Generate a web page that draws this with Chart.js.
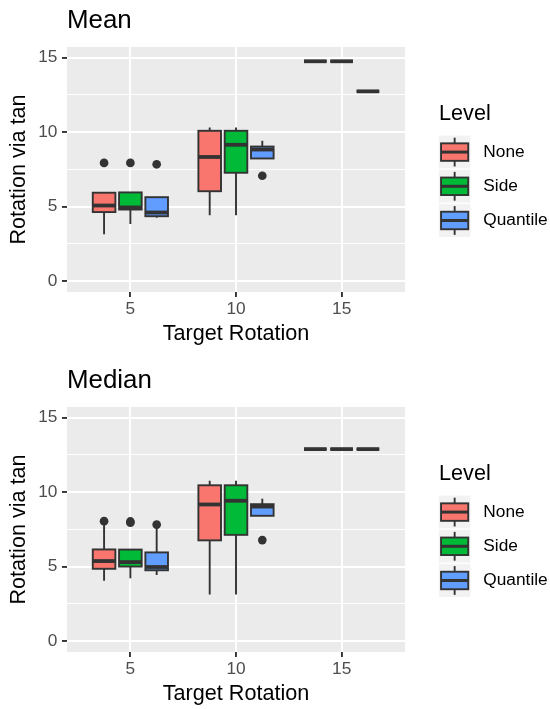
<!DOCTYPE html>
<html lang="en">
<head>
  <meta charset="UTF-8" />
  <title>Rotation via tan</title>
  <script src="https://cdn.jsdelivr.net/npm/chart.js"></script>
  <style>
    body { margin: 0; background: #fff; }
    .panel { position: absolute; left: 0; width: 550px; height: 349px; }
  </style>
</head>
<body>
  <div class="panel" style="top:0"><canvas id="meanChart" width="550" height="349"></canvas></div>
  <div class="panel" style="top:360px"><canvas id="medianChart" width="550" height="349"></canvas></div>

  <script>
    // data
    const targets = [5, 10, 15];
    const levels = ['None', 'Side', 'Quantile'];
    const xTicks = [5, 10, 15];
    const yTicks = [0, 5, 10, 15];
    const yMinorTicks = [2.5, 7.5, 12.5];

    // each row: [lower whisker, Q1, median, Q3, upper whisker], one row per target rotation
    const meanNone     = [[3.14, 4.63, 5.07, 5.93, 5.93], [4.41, 6.03, 8.33, 10.09, 10.31], [14.76, 14.76, 14.76, 14.76, 14.76]];
    const meanSide     = [[3.83, 4.80, 4.94, 5.95, 5.95], [4.41, 7.27, 9.15, 10.09, 10.31], [14.76, 14.76, 14.76, 14.76, 14.76]];
    const meanQuantile = [[4.25, 4.35, 4.60, 5.63, 5.63], [8.23, 8.23, 8.83, 9.03, 9.42], [12.74, 12.74, 12.74, 12.74, 12.74]];
    const meanNoneOut     = [[7.93], [], []];
    const meanSideOut     = [[7.93], [], []];
    const meanQuantileOut = [[7.84], [7.07], []];

    const medianNone     = [[4.05, 4.85, 5.37, 6.15, 7.85], [3.13, 6.76, 9.17, 10.46, 10.77], [12.89, 12.89, 12.89, 12.89, 12.89]];
    const medianSide     = [[4.21, 5.00, 5.30, 6.14, 6.14], [3.13, 7.13, 9.42, 10.46, 10.77], [12.89, 12.89, 12.89, 12.89, 12.89]];
    const medianQuantile = [[4.43, 4.75, 4.97, 5.95, 7.60], [8.41, 8.41, 9.03, 9.19, 9.56], [12.89, 12.89, 12.89, 12.89, 12.89]];
    const medianNoneOut     = [[8.05], [], []];
    const medianSideOut     = [[7.95, 8.03], [], []];
    const medianQuantileOut = [[7.82], [6.78], []];

    // look
    const levelColors = ['#F8766D', '#00BA38', '#619CFF'];
    const ink = '#333333';
    const fam = '"Liberation Sans", Arial, sans-serif';
    const dodge = 1.245;     // x units between boxes of one group
    const boxWidth = 1.07;   // x units

    Chart.defaults.font.family = fam;

    // ggplot-like boxes, drawn through the chart scales
    const boxplotPlugin = {
      id: 'boxplots',
      beforeDraw(chart) {
        const { ctx, chartArea: a } = chart;
        ctx.save();
        ctx.fillStyle = '#EBEBEB';
        ctx.fillRect(a.left, a.top, a.right - a.left, a.bottom - a.top);
        ctx.restore();
      },
      beforeDatasetsDraw(chart, args, opts) {
        const { ctx, scales: { x, y } } = chart;
        ctx.save();
        opts.series.forEach((rows, li) => {
          rows.forEach((r, ti) => {
            const cx = targets[ti] + (li - 1) * dodge;
            const x0 = x.getPixelForValue(cx - boxWidth / 2);
            const x1 = x.getPixelForValue(cx + boxWidth / 2);
            const xm = x.getPixelForValue(cx);
            const [lo, q1, med, q3, hi] = r.map(v => y.getPixelForValue(v));
            ctx.strokeStyle = ink;
            ctx.lineWidth = 1.9;
            ctx.beginPath();
            ctx.moveTo(xm, q3); ctx.lineTo(xm, hi);
            ctx.moveTo(xm, q1); ctx.lineTo(xm, lo);
            ctx.stroke();
            ctx.fillStyle = levelColors[li];
            ctx.fillRect(x0, q3, x1 - x0, q1 - q3);
            ctx.strokeRect(x0, q3, x1 - x0, q1 - q3);
            ctx.lineWidth = 3.8;
            ctx.beginPath();
            ctx.moveTo(x0, med); ctx.lineTo(x1, med);
            ctx.stroke();
          });
        });
        ctx.restore();
      },
      afterDraw(chart) {
        // legend "Level" on the right
        const { ctx, chartArea: a } = chart;
        const cy = (a.top + a.bottom) / 2;
        const kx = a.right + 33.3, kw = 32.7, kh = 34.2;
        ctx.save();
        ctx.fillStyle = '#000';
        ctx.font = '21.6px ' + fam;
        ctx.textAlign = 'left';
        ctx.textBaseline = 'alphabetic';
        ctx.fillText('Level', kx + 0.8, cy - 49.5);
        levels.forEach((name, i) => {
          const top = cy - 34.5 + i * kh;
          const mid = top + kh / 2, cxk = kx + kw / 2;
          ctx.fillStyle = '#F2F2F2';
          ctx.fillRect(kx, top, kw, kh);
          ctx.strokeStyle = '#fff';
          ctx.lineWidth = 1.2;
          ctx.strokeRect(kx, top, kw, kh);
          ctx.strokeStyle = ink;
          ctx.lineWidth = 1.9;
          ctx.beginPath();
          ctx.moveTo(cxk, mid - 14.4); ctx.lineTo(cxk, mid + 14.4);
          ctx.stroke();
          ctx.fillStyle = levelColors[i];
          ctx.fillRect(cxk - 13.6, mid - 8.75, 27.2, 17.5);
          ctx.strokeRect(cxk - 13.6, mid - 8.75, 27.2, 17.5);
          ctx.lineWidth = 3;
          ctx.beginPath();
          ctx.moveTo(cxk - 13.6, mid); ctx.lineTo(cxk + 13.6, mid);
          ctx.stroke();
          ctx.fillStyle = '#000';
          ctx.font = '17.3px ' + fam;
          ctx.textBaseline = 'middle';
          ctx.fillText(name, kx + 45, mid);
        });
        ctx.restore();
      }
    };

    function outlierPoints(out, li) {
      return out.flatMap((vals, ti) => vals.map(v => ({ x: targets[ti] + (li - 1) * dodge, y: v })));
    }

    function makeChart(id, title, series, outliers) {
      const ctx = document.getElementById(id).getContext('2d');
      return new Chart(ctx, {
        type: 'scatter',
        data: {
          datasets: outliers.map((out, li) => ({
            label: levels[li],
            data: outlierPoints(out, li),
            backgroundColor: ink,
            borderWidth: 0,
            pointRadius: 4.35,
            pointHoverRadius: 4.35
          }))
        },
        plugins: [boxplotPlugin],
        options: {
          responsive: false,
          animation: false,
          devicePixelRatio: 1,
          layout: { padding: { left: 0, right: 145, top: 0, bottom: 0 } },
          plugins: {
            legend: { display: false },
            tooltip: { enabled: false },
            title: {
              display: true,
              text: title,
              align: 'start',
              fullSize: false,
              color: '#000',
              font: { size: 25.9, weight: 'normal' },
              padding: { top: 5.25, bottom: 10.65 }
            },
            boxplots: { series: series }
          },
          scales: {
            x: {
              type: 'linear',
              min: 2,
              max: 18,
              afterBuildTicks: axis => { axis.ticks = xTicks.map(v => ({ value: v })); },
              afterFit: axis => { axis.height = 57; },
              border: { display: false },
              grid: { color: '#fff', lineWidth: 1.9, tickColor: ink, tickWidth: 1.9, tickLength: 5 },
              ticks: { color: '#4D4D4D', font: { size: 17.3 }, padding: 1.4, maxRotation: 0, autoSkip: false },
              title: { display: true, text: 'Target Rotation', color: '#000', font: { size: 21.6 }, padding: { top: 0, bottom: 2.05 } }
            },
            y: {
              type: 'linear',
              min: -0.74,
              max: 15.72,
              afterBuildTicks: axis => {
                axis.ticks = yTicks.concat(yMinorTicks).sort((a, b) => a - b).map(v => ({ value: v }));
              },
              afterFit: axis => { axis.width = 67; },
              border: { display: false },
              grid: {
                color: '#fff',
                lineWidth: c => yTicks.includes(c.tick.value) ? 1.9 : 0.95,
                tickColor: c => yTicks.includes(c.tick.value) ? ink : 'rgba(0,0,0,0)',
                tickWidth: 1.9,
                tickLength: 5
              },
              ticks: {
                color: '#4D4D4D',
                font: { size: 17.3 },
                padding: 4.6,
                autoSkip: false,
                callback: v => yTicks.includes(v) ? String(v) : ''
              },
              title: { display: true, text: 'Rotation via tan', color: '#000', font: { size: 21.6 }, padding: { top: 6.5, bottom: 0 } }
            }
          }
        }
      });
    }

    makeChart('meanChart', 'Mean',
      [meanNone, meanSide, meanQuantile],
      [meanNoneOut, meanSideOut, meanQuantileOut]);
    makeChart('medianChart', 'Median',
      [medianNone, medianSide, medianQuantile],
      [medianNoneOut, medianSideOut, medianQuantileOut]);
  </script>
</body>
</html>
